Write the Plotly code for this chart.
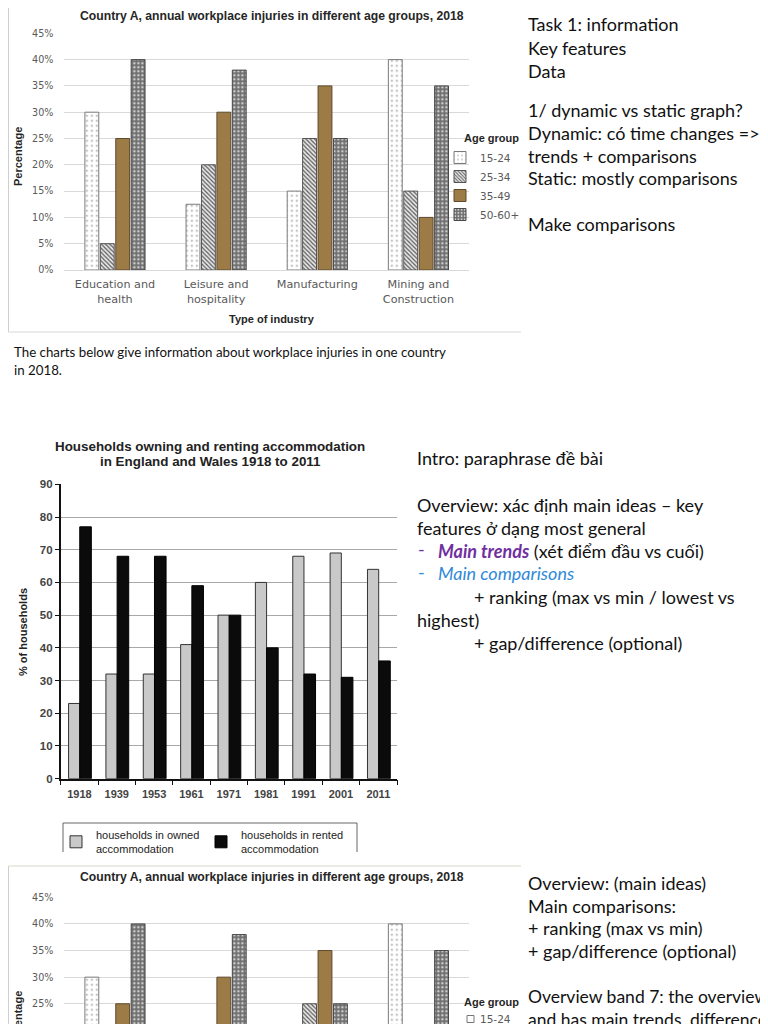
import plotly.graph_objects as go

# page offset of the plot inside the html body (body margin) and figure size
OFF = 8
FW, FH = 760, 1016

# ---------------- data ----------------
industries = ["Education and<br>health", "Leisure and<br>hospitality", "Manufacturing", "Mining and<br>Construction"]
age_groups = ["15-24", "25-34", "35-49", "50-60+"]
inj_15_24 = [30, 12.5, 15, 40]
inj_25_34 = [5, 20, 25, 15]
inj_35_49 = [25, 30, 35, 10]
inj_50_60 = [40, 38, 25, 35]
injury_series = [inj_15_24, inj_25_34, inj_35_49, inj_50_60]

years = ["1918", "1939", "1953", "1961", "1971", "1981", "1991", "2001", "2011"]
owned = [23, 32, 32, 41, 50, 60, 68, 69, 64]
rented = [77, 68, 68, 59, 50, 40, 32, 31, 36]
tenure_names = ["households in owned<br>accommodation", "households in rented<br>accommodation"]


def px(x):
    return (x - OFF) / FW


def py(y):
    return 1 - (y - OFF) / FH


# ---------------- styles ----------------
age_styles = [
    dict(color="white", line=dict(color="#7a7a7a", width=1),
         pattern=dict(shape=".", fgcolor="#9a9a9a", bgcolor="white", size=5, solidity=0.1)),
    dict(color="#e0e0e0", line=dict(color="#555555", width=1),
         pattern=dict(shape="\\", fgcolor="#5a5a5a", bgcolor="#e8e8e8", size=3, solidity=0.4)),
    dict(color="#9c7b47", line=dict(color="#5e4a2c", width=1)),
    dict(color="#727272", line=dict(color="#4a4a4a", width=1),
         pattern=dict(shape=".", fgcolor="#cfcfcf", bgcolor="#6e6e6e", size=4, solidity=0.3)),
]

fig = go.Figure()

# Chart 1 (top) and chart 3 (bottom, cropped copy)
for (xa, ya, leg, show) in (("x", "y", "legend", True), ("x3", "y3", "legend3", False)):
    for name, vals, st in zip(age_groups, injury_series, age_styles):
        fig.add_trace(go.Bar(x=industries, y=vals, name=name, marker=st,
                             xaxis=xa, yaxis=ya, legend=leg, showlegend=show))

# Chart 2
fig.add_trace(go.Bar(x=years, y=owned, name=tenure_names[0], xaxis="x2", yaxis="y2",
                     legend="legend2", width=0.30, offset=-0.29,
                     marker=dict(color="#c9c9c9", line=dict(color="#333333", width=1))))
fig.add_trace(go.Bar(x=years, y=rented, name=tenure_names[1], xaxis="x2", yaxis="y2",
                     legend="legend2", width=0.31, offset=0.01,
                     marker=dict(color="#0b0b0b", line=dict(color="#000000", width=1))))

c1_tick = dict(family="DejaVu Sans", size=11.2, color="#595959")
c1_ytick = dict(family="DejaVu Sans", size=9.6, color="#595959")
c2_tick = dict(family="Liberation Sans", size=11, color="#444444", weight="bold")

fig.update_layout(
    template="none",
    width=FW, height=FH,
    margin=dict(l=0, r=0, t=0, b=0),
    paper_bgcolor="white", plot_bgcolor="rgba(0,0,0,0)",
    barmode="group", bargap=0.39, bargroupgap=0.1,
    font=dict(family="Liberation Sans", color="#222"),
    xaxis=dict(domain=[px(64.4), px(469)], anchor="y", showgrid=False, showline=False,
               ticks="", tickfont=c1_tick, ticklabelstandoff=6, automargin=False),
    yaxis=dict(domain=[py(270), py(33.3)], anchor="x", range=[0, 45], dtick=5, ticksuffix="%",
               showgrid=True, gridcolor="#d9d9d9", gridwidth=1, zeroline=True,
               zerolinecolor="#d9d9d9", zerolinewidth=1, showline=False, ticks="",
               tickfont=c1_ytick, ticklabelstandoff=10, automargin=False),
    xaxis3=dict(domain=[px(64.4), px(469)], anchor="y3", showgrid=False, showline=False,
                ticks="", showticklabels=False, automargin=False),
    yaxis3=dict(domain=[0, py(897.3)], anchor="x3", range=[21.2, 45], dtick=5, ticksuffix="%",
                showgrid=True, gridcolor="#d9d9d9", gridwidth=1, zeroline=False,
                showline=False, ticks="", tickfont=c1_ytick,
                ticklabelstandoff=10, automargin=False),
    xaxis2=dict(domain=[px(60.7), px(397)], anchor="y2", type="category", showgrid=False,
                showline=True, linecolor="#111", linewidth=1.5, ticks="outside",
                tickson="boundaries", ticklen=5, tickcolor="#111", tickfont=c2_tick,
                ticklabelstandoff=4, automargin=False),
    yaxis2=dict(domain=[py(778.7), py(484.3)], anchor="x2", range=[0, 90], dtick=10,
                showgrid=True, gridcolor="#a8a8a8", gridwidth=1, zeroline=False,
                showline=True, linecolor="#111", linewidth=1.5, ticks="outside", ticklen=4,
                tickcolor="#111",
                tickfont=dict(family="Liberation Sans", size=11.5, color="#444", weight="bold"),
                automargin=False),
    legend=dict(x=px(440), y=py(143), xanchor="left", yanchor="top", bgcolor="rgba(0,0,0,0)",
                font=dict(family="DejaVu Sans", size=10.5, color="#595959"),
                tracegroupgap=0, itemwidth=30, traceorder="normal"),
    legend3=dict(visible=False),
    legend2=dict(x=px(56), y=py(821), xanchor="left", yanchor="top", orientation="h",
                 bgcolor="rgba(0,0,0,0)", entrywidth=100, entrywidthmode="pixels",
                 font=dict(family="Liberation Sans", size=11, color="#222"), itemwidth=30),
)

ann = []


def txt(x, y, s, size=18, color="#111", family="Lato", xanchor="left", yanchor="middle", **kw):
    ann.append(dict(x=px(x), y=py(y), xref="paper", yref="paper", text=s, showarrow=False,
                    xanchor=xanchor, yanchor=yanchor,
                    font=dict(family=family, size=size, color=color), **kw))


# chart 1 texts
t1 = "<b>Country A, annual workplace injuries in different age groups, 2018</b>"
txt(271.7, 8, t1, size=12.2, color="#262626", family="Liberation Sans", xanchor="center",
    yanchor="top", borderpad=0)
txt(272, 319, "<b>Type of industry</b>", size=11, color="#262626", family="Liberation Sans", xanchor="center")
txt(18, 157, "<b>Percentage</b>", size=11, color="#262626", family="Liberation Sans",
    xanchor="center", textangle=-90)
txt(462, 138.3, "<b>Age group</b>", size=11, color="#262626", family="Liberation Sans")
# chart 3 texts
D3 = 864
txt(271.7, 12.7 + D3, t1, size=12.2, color="#262626", family="Liberation Sans", xanchor="center")
txt(18, 157 + D3, "<b>Percentage</b>", size=11, color="#262626", family="Liberation Sans",
    xanchor="center", textangle=-90)
txt(462, 138.3 + D3, "<b>Age group</b>", size=11, color="#262626", family="Liberation Sans")
txt(478, 155 + D3, age_groups[0], size=10.5, color="#595959", family="DejaVu Sans")

# chart 2 texts
txt(210, 446, "<b>Households owning and renting accommodation</b>", size=13.4, color="#222",
    family="Liberation Sans", xanchor="center")
txt(210, 461, "<b>in England and Wales 1918 to 2011</b>", size=13.4, color="#222",
    family="Liberation Sans", xanchor="center")
txt(23, 632, "<b>% of households</b>", size=11, color="#222", family="Liberation Sans",
    xanchor="center", textangle=-90)

# caption
txt(11.7, 352, "The charts below give information about workplace injuries in one country", size=13.3, color="#111")
txt(11.7, 370, "in 2018.", size=13.3, color="#111")

# right-top notes
for s, y in [("Task 1: information", 24.5), ("Key features", 47.5), ("Data", 70.7),
             ("1/ dynamic vs static graph?", 110), ("Dynamic: có time changes =>", 133),
             ("trends + comparisons", 155.7), ("Static: mostly comparisons", 178),
             ("Make comparisons", 224)]:
    txt(526, y, s)

# middle notes
PURPLE = "#7030a0"
BLUE = "#2f8ad8"
txt(415, 458.3, "Intro: paraphrase đề bài")
txt(415, 505, "Overview: xác định main ideas – key")
txt(415, 528, "features ở dạng most general")
txt(416, 549, "-", color=PURPLE)
txt(436, 550.7, f"<span style='color:{PURPLE}'><b><i>Main trends</i></b></span> (xét điểm đầu vs cuối)")
txt(416, 572, "-", color=BLUE)
txt(436, 573.3, f"<span style='color:{BLUE}'><i>Main comparisons</i></span>")
txt(472, 596.7, "+ ranking (max vs min / lowest vs")
txt(415, 620, "highest)")
txt(472, 642.7, "+ gap/difference (optional)")

# bottom-right notes
for s, y, sz in [("Overview: (main ideas)", 882.7, 18), ("Main comparisons:", 906, 18),
                 ("+ ranking (max vs min)", 928.3, 18), ("+ gap/difference (optional)", 950.7, 18),
                 ("Overview band 7: the overview", 996.7, 17.5),
                 ("and has main trends, difference", 1019.5, 17.5)]:
    txt(526, y, s, size=sz)

fig.update_layout(annotations=ann)

# frames / legend box / cropped legend key of chart 3
L = dict(type="line", xref="paper", yref="paper")
shapes = [
    dict(L, x0=px(8.5), x1=px(8.5), y0=py(8), y1=py(332), line=dict(color="#cfcfcf", width=1)),
    dict(L, x0=px(8.5), x1=px(521), y0=py(332), y1=py(332), line=dict(color="#d8d8d8", width=1)),
    dict(L, x0=px(8.5), x1=px(521), y0=py(866), y1=py(866), line=dict(color="#d6dacb", width=1)),
    dict(L, x0=px(8.5), x1=px(8.5), y0=py(866), y1=py(1024), line=dict(color="#cfcfcf", width=1)),
    dict(L, x0=px(63), x1=px(357), y0=py(823), y1=py(823), line=dict(color="#666", width=1)),
    dict(L, x0=px(63), x1=px(63), y0=py(823), y1=py(852), line=dict(color="#666", width=1)),
    dict(L, x0=px(357), x1=px(357), y0=py(823), y1=py(852), line=dict(color="#666", width=1)),
    dict(type="rect", xref="paper", yref="paper", x0=px(467), x1=px(474), y0=py(1015.5), y1=py(1022.5),
         fillcolor="white", line=dict(color="#777", width=1)),
]
fig.update_layout(shapes=shapes)

fig.write_html("out.html")
